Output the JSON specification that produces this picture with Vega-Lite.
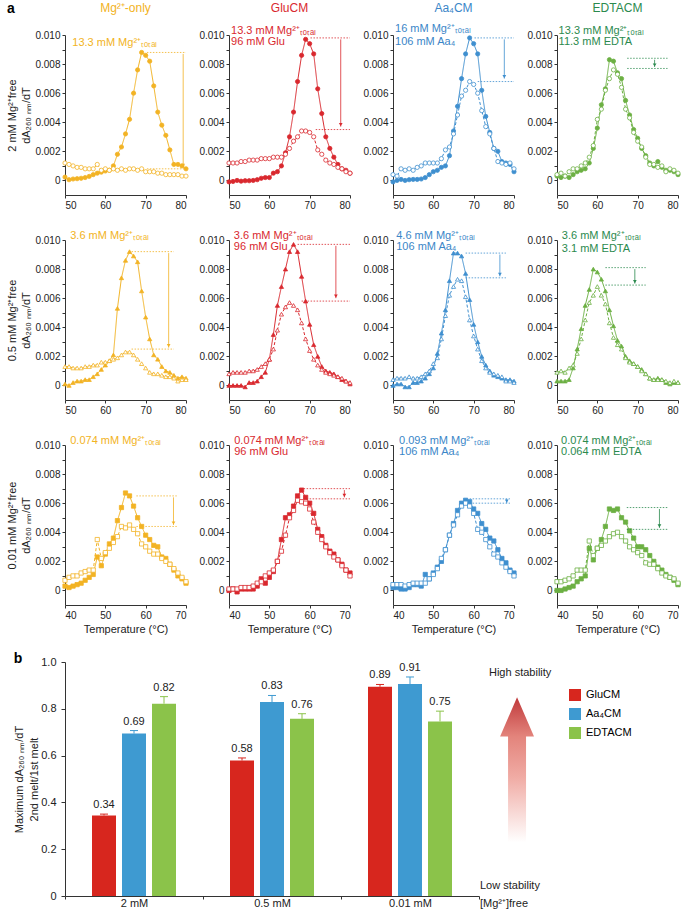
{
"$schema":"https://vega.github.io/schema/vega-lite/v6.json",
"padding":{"left":6,"top":1,"right":0,"bottom":0},
"config":{"font":"Liberation Sans","view":{"stroke":null},"axis":{"grid":false,"labelFontSize":10,"titleFontSize":11,"titleFontWeight":"normal","tickSize":3,"tickColor":"#333333","domainColor":"#333333","labelColor":"#222222","titleColor":"#222222","labelPadding":2}},
"datasets":{
"curves":[
{"p":"11","m":1,"x":50,"y":0.00023},{"p":"11","m":1,"x":51,"y":0.00005},{"p":"11","m":1,"x":52,"y":0.0001},{"p":"11","m":1,"x":53,"y":0.00012},{"p":"11","m":1,"x":54,"y":0.00015},{"p":"11","m":1,"x":55,"y":0.0002},{"p":"11","m":1,"x":56,"y":0.00028},{"p":"11","m":1,"x":57,"y":0.0004},{"p":"11","m":1,"x":58,"y":0.0005},{"p":"11","m":1,"x":59,"y":0.00057},{"p":"11","m":1,"x":60,"y":0.00065},{"p":"11","m":1,"x":61,"y":0.0007},{"p":"11","m":1,"x":62,"y":0.001},{"p":"11","m":1,"x":63,"y":0.0018},{"p":"11","m":1,"x":64,"y":0.0023},{"p":"11","m":1,"x":65,"y":0.0032},{"p":"11","m":1,"x":66,"y":0.0042},{"p":"11","m":1,"x":67,"y":0.006},{"p":"11","m":1,"x":68,"y":0.0076},{"p":"11","m":1,"x":69,"y":0.0088},{"p":"11","m":1,"x":70,"y":0.0086},{"p":"11","m":1,"x":71,"y":0.0082},{"p":"11","m":1,"x":72,"y":0.0065},{"p":"11","m":1,"x":73,"y":0.0047},{"p":"11","m":1,"x":74,"y":0.0038},{"p":"11","m":1,"x":75,"y":0.0031},{"p":"11","m":1,"x":76,"y":0.0021},{"p":"11","m":1,"x":77,"y":0.0011},{"p":"11","m":1,"x":78,"y":0.0011},{"p":"11","m":1,"x":79,"y":0.001},{"p":"11","m":1,"x":80,"y":0.0008},
{"p":"11","m":2,"x":50,"y":0.0012},{"p":"11","m":2,"x":51,"y":0.0011},{"p":"11","m":2,"x":52,"y":0.001},{"p":"11","m":2,"x":53,"y":0.0009},{"p":"11","m":2,"x":54,"y":0.0009},{"p":"11","m":2,"x":55,"y":0.0008},{"p":"11","m":2,"x":56,"y":0.0008},{"p":"11","m":2,"x":57,"y":0.0008},{"p":"11","m":2,"x":58,"y":0.0011},{"p":"11","m":2,"x":59,"y":0.0007},{"p":"11","m":2,"x":60,"y":0.0008},{"p":"11","m":2,"x":61,"y":0.0007},{"p":"11","m":2,"x":62,"y":0.0008},{"p":"11","m":2,"x":63,"y":0.0007},{"p":"11","m":2,"x":64,"y":0.0008},{"p":"11","m":2,"x":65,"y":0.0007},{"p":"11","m":2,"x":66,"y":0.0008},{"p":"11","m":2,"x":67,"y":0.0008},{"p":"11","m":2,"x":68,"y":0.0007},{"p":"11","m":2,"x":69,"y":0.0008},{"p":"11","m":2,"x":70,"y":0.0006},{"p":"11","m":2,"x":71,"y":0.0006},{"p":"11","m":2,"x":72,"y":0.0006},{"p":"11","m":2,"x":73,"y":0.0005},{"p":"11","m":2,"x":74,"y":0.0005},{"p":"11","m":2,"x":75,"y":0.0004},{"p":"11","m":2,"x":76,"y":0.0004},{"p":"11","m":2,"x":77,"y":0.0004},{"p":"11","m":2,"x":78,"y":0.0004},{"p":"11","m":2,"x":79,"y":0.0003},{"p":"11","m":2,"x":80,"y":0.0003},
{"p":"12","m":1,"x":50,"y":-0.0001},{"p":"12","m":1,"x":51,"y":-0.00007},{"p":"12","m":1,"x":52,"y":0},{"p":"12","m":1,"x":53,"y":-0.00005},{"p":"12","m":1,"x":54,"y":-0.00002},{"p":"12","m":1,"x":55,"y":-0.00002},{"p":"12","m":1,"x":56,"y":0},{"p":"12","m":1,"x":57,"y":0.00005},{"p":"12","m":1,"x":58,"y":0.00015},{"p":"12","m":1,"x":59,"y":0.0002},{"p":"12","m":1,"x":60,"y":0.0002},{"p":"12","m":1,"x":61,"y":0.0005},{"p":"12","m":1,"x":62,"y":0.0006},{"p":"12","m":1,"x":63,"y":0.001},{"p":"12","m":1,"x":64,"y":0.0019},{"p":"12","m":1,"x":65,"y":0.003},{"p":"12","m":1,"x":66,"y":0.0047},{"p":"12","m":1,"x":67,"y":0.0068},{"p":"12","m":1,"x":68,"y":0.0086},{"p":"12","m":1,"x":69,"y":0.0097},{"p":"12","m":1,"x":70,"y":0.0094},{"p":"12","m":1,"x":71,"y":0.0087},{"p":"12","m":1,"x":72,"y":0.0063},{"p":"12","m":1,"x":73,"y":0.0046},{"p":"12","m":1,"x":74,"y":0.003},{"p":"12","m":1,"x":75,"y":0.0022},{"p":"12","m":1,"x":76,"y":0.0016},{"p":"12","m":1,"x":77,"y":0.0011},{"p":"12","m":1,"x":78,"y":0.0008},{"p":"12","m":1,"x":79,"y":0.0007},{"p":"12","m":1,"x":80,"y":0.0005},
{"p":"12","m":2,"x":50,"y":0.0012},{"p":"12","m":2,"x":51,"y":0.0012},{"p":"12","m":2,"x":52,"y":0.0012},{"p":"12","m":2,"x":53,"y":0.0013},{"p":"12","m":2,"x":54,"y":0.0013},{"p":"12","m":2,"x":55,"y":0.0014},{"p":"12","m":2,"x":56,"y":0.0014},{"p":"12","m":2,"x":57,"y":0.0014},{"p":"12","m":2,"x":58,"y":0.0015},{"p":"12","m":2,"x":59,"y":0.0015},{"p":"12","m":2,"x":60,"y":0.0015},{"p":"12","m":2,"x":61,"y":0.0016},{"p":"12","m":2,"x":62,"y":0.0016},{"p":"12","m":2,"x":63,"y":0.0016},{"p":"12","m":2,"x":64,"y":0.0018},{"p":"12","m":2,"x":65,"y":0.0022},{"p":"12","m":2,"x":66,"y":0.0027},{"p":"12","m":2,"x":67,"y":0.003},{"p":"12","m":2,"x":68,"y":0.0034},{"p":"12","m":2,"x":69,"y":0.0034},{"p":"12","m":2,"x":70,"y":0.0033},{"p":"12","m":2,"x":71,"y":0.003},{"p":"12","m":2,"x":72,"y":0.0021},{"p":"12","m":2,"x":73,"y":0.0018},{"p":"12","m":2,"x":74,"y":0.0014},{"p":"12","m":2,"x":75,"y":0.0012},{"p":"12","m":2,"x":76,"y":0.0011},{"p":"12","m":2,"x":77,"y":0.0009},{"p":"12","m":2,"x":78,"y":0.0008},{"p":"12","m":2,"x":79,"y":0.0006},{"p":"12","m":2,"x":80,"y":0.0005},
{"p":"13","m":1,"x":50,"y":-0.0001},{"p":"13","m":1,"x":51,"y":0},{"p":"13","m":1,"x":52,"y":0.00007},{"p":"13","m":1,"x":53,"y":0},{"p":"13","m":1,"x":54,"y":0.00005},{"p":"13","m":1,"x":55,"y":0.00007},{"p":"13","m":1,"x":56,"y":0.00007},{"p":"13","m":1,"x":57,"y":0.0001},{"p":"13","m":1,"x":58,"y":0.0002},{"p":"13","m":1,"x":59,"y":0.0004},{"p":"13","m":1,"x":60,"y":0.0006},{"p":"13","m":1,"x":61,"y":0.0007},{"p":"13","m":1,"x":62,"y":0.0009},{"p":"13","m":1,"x":63,"y":0.001},{"p":"13","m":1,"x":64,"y":0.0017},{"p":"13","m":1,"x":65,"y":0.0034},{"p":"13","m":1,"x":66,"y":0.0051},{"p":"13","m":1,"x":67,"y":0.007},{"p":"13","m":1,"x":68,"y":0.0087},{"p":"13","m":1,"x":69,"y":0.0098},{"p":"13","m":1,"x":70,"y":0.0094},{"p":"13","m":1,"x":71,"y":0.0087},{"p":"13","m":1,"x":72,"y":0.0062},{"p":"13","m":1,"x":73,"y":0.0044},{"p":"13","m":1,"x":74,"y":0.0033},{"p":"13","m":1,"x":75,"y":0.0022},{"p":"13","m":1,"x":76,"y":0.002},{"p":"13","m":1,"x":77,"y":0.0013},{"p":"13","m":1,"x":78,"y":0.0012},{"p":"13","m":1,"x":79,"y":0.0011},{"p":"13","m":1,"x":80,"y":0.0006},
{"p":"13","m":2,"x":50,"y":0.0004},{"p":"13","m":2,"x":51,"y":0.0003},{"p":"13","m":2,"x":52,"y":0.0008},{"p":"13","m":2,"x":53,"y":0.0007},{"p":"13","m":2,"x":54,"y":0.0008},{"p":"13","m":2,"x":55,"y":0.0007},{"p":"13","m":2,"x":56,"y":0.0009},{"p":"13","m":2,"x":57,"y":0.001},{"p":"13","m":2,"x":58,"y":0.0012},{"p":"13","m":2,"x":59,"y":0.0012},{"p":"13","m":2,"x":60,"y":0.0012},{"p":"13","m":2,"x":61,"y":0.0012},{"p":"13","m":2,"x":62,"y":0.0015},{"p":"13","m":2,"x":63,"y":0.0021},{"p":"13","m":2,"x":64,"y":0.0023},{"p":"13","m":2,"x":65,"y":0.0032},{"p":"13","m":2,"x":66,"y":0.0045},{"p":"13","m":2,"x":67,"y":0.0058},{"p":"13","m":2,"x":68,"y":0.0062},{"p":"13","m":2,"x":69,"y":0.0068},{"p":"13","m":2,"x":70,"y":0.0066},{"p":"13","m":2,"x":71,"y":0.006},{"p":"13","m":2,"x":72,"y":0.0048},{"p":"13","m":2,"x":73,"y":0.0037},{"p":"13","m":2,"x":74,"y":0.0032},{"p":"13","m":2,"x":75,"y":0.0022},{"p":"13","m":2,"x":76,"y":0.0013},{"p":"13","m":2,"x":77,"y":0.0012},{"p":"13","m":2,"x":78,"y":0.0011},{"p":"13","m":2,"x":79,"y":0.0012},{"p":"13","m":2,"x":80,"y":0.0008},
{"p":"14","m":1,"x":50,"y":0.0003},{"p":"14","m":1,"x":51,"y":0.0002},{"p":"14","m":1,"x":52,"y":0.0003},{"p":"14","m":1,"x":53,"y":0.0002},{"p":"14","m":1,"x":54,"y":0.0004},{"p":"14","m":1,"x":55,"y":0.0006},{"p":"14","m":1,"x":56,"y":0.0007},{"p":"14","m":1,"x":57,"y":0.0008},{"p":"14","m":1,"x":58,"y":0.0012},{"p":"14","m":1,"x":59,"y":0.0022},{"p":"14","m":1,"x":60,"y":0.0036},{"p":"14","m":1,"x":61,"y":0.0052},{"p":"14","m":1,"x":62,"y":0.0063},{"p":"14","m":1,"x":63,"y":0.0083},{"p":"14","m":1,"x":64,"y":0.0082},{"p":"14","m":1,"x":65,"y":0.0074},{"p":"14","m":1,"x":66,"y":0.007},{"p":"14","m":1,"x":67,"y":0.0055},{"p":"14","m":1,"x":68,"y":0.0045},{"p":"14","m":1,"x":69,"y":0.0035},{"p":"14","m":1,"x":70,"y":0.0029},{"p":"14","m":1,"x":71,"y":0.0022},{"p":"14","m":1,"x":72,"y":0.0017},{"p":"14","m":1,"x":73,"y":0.0012},{"p":"14","m":1,"x":74,"y":0.001},{"p":"14","m":1,"x":75,"y":0.0013},{"p":"14","m":1,"x":76,"y":0.0009},{"p":"14","m":1,"x":77,"y":0.0007},{"p":"14","m":1,"x":78,"y":0.0007},{"p":"14","m":1,"x":79,"y":0.0006},{"p":"14","m":1,"x":80,"y":0.0004},
{"p":"14","m":2,"x":50,"y":0.0004},{"p":"14","m":2,"x":51,"y":0.0005},{"p":"14","m":2,"x":52,"y":0.0003},{"p":"14","m":2,"x":53,"y":0.0006},{"p":"14","m":2,"x":54,"y":0.0008},{"p":"14","m":2,"x":55,"y":0.0008},{"p":"14","m":2,"x":56,"y":0.001},{"p":"14","m":2,"x":57,"y":0.0012},{"p":"14","m":2,"x":58,"y":0.0016},{"p":"14","m":2,"x":59,"y":0.0024},{"p":"14","m":2,"x":60,"y":0.0042},{"p":"14","m":2,"x":61,"y":0.0049},{"p":"14","m":2,"x":62,"y":0.0062},{"p":"14","m":2,"x":63,"y":0.007},{"p":"14","m":2,"x":64,"y":0.0076},{"p":"14","m":2,"x":65,"y":0.0073},{"p":"14","m":2,"x":66,"y":0.0064},{"p":"14","m":2,"x":67,"y":0.0049},{"p":"14","m":2,"x":68,"y":0.0043},{"p":"14","m":2,"x":69,"y":0.0033},{"p":"14","m":2,"x":70,"y":0.0027},{"p":"14","m":2,"x":71,"y":0.0023},{"p":"14","m":2,"x":72,"y":0.0016},{"p":"14","m":2,"x":73,"y":0.0011},{"p":"14","m":2,"x":74,"y":0.0011},{"p":"14","m":2,"x":75,"y":0.0009},{"p":"14","m":2,"x":76,"y":0.001},{"p":"14","m":2,"x":77,"y":0.0006},{"p":"14","m":2,"x":78,"y":0.0008},{"p":"14","m":2,"x":79,"y":0.0007},{"p":"14","m":2,"x":80,"y":0.0005},
{"p":"21","m":1,"x":50,"y":0.0001},{"p":"21","m":1,"x":51,"y":0},{"p":"21","m":1,"x":52,"y":0.0002},{"p":"21","m":1,"x":53,"y":0.0003},{"p":"21","m":1,"x":54,"y":0.0003},{"p":"21","m":1,"x":55,"y":0.0004},{"p":"21","m":1,"x":56,"y":0.0004},{"p":"21","m":1,"x":57,"y":0.0006},{"p":"21","m":1,"x":58,"y":0.0008},{"p":"21","m":1,"x":59,"y":0.0011},{"p":"21","m":1,"x":60,"y":0.0014},{"p":"21","m":1,"x":61,"y":0.0017},{"p":"21","m":1,"x":62,"y":0.0021},{"p":"21","m":1,"x":63,"y":0.0053},{"p":"21","m":1,"x":64,"y":0.0074},{"p":"21","m":1,"x":65,"y":0.0086},{"p":"21","m":1,"x":66,"y":0.0092},{"p":"21","m":1,"x":67,"y":0.0089},{"p":"21","m":1,"x":68,"y":0.0085},{"p":"21","m":1,"x":69,"y":0.0065},{"p":"21","m":1,"x":70,"y":0.0047},{"p":"21","m":1,"x":71,"y":0.0032},{"p":"21","m":1,"x":72,"y":0.0021},{"p":"21","m":1,"x":73,"y":0.0018},{"p":"21","m":1,"x":74,"y":0.0013},{"p":"21","m":1,"x":75,"y":0.001},{"p":"21","m":1,"x":76,"y":0.0009},{"p":"21","m":1,"x":77,"y":0.0007},{"p":"21","m":1,"x":78,"y":0.0005},{"p":"21","m":1,"x":79,"y":0.0006},{"p":"21","m":1,"x":80,"y":0.0005},
{"p":"21","m":2,"x":50,"y":0.0013},{"p":"21","m":2,"x":51,"y":0.0013},{"p":"21","m":2,"x":52,"y":0.0012},{"p":"21","m":2,"x":53,"y":0.0012},{"p":"21","m":2,"x":54,"y":0.0012},{"p":"21","m":2,"x":55,"y":0.0013},{"p":"21","m":2,"x":56,"y":0.0013},{"p":"21","m":2,"x":57,"y":0.0014},{"p":"21","m":2,"x":58,"y":0.0014},{"p":"21","m":2,"x":59,"y":0.0016},{"p":"21","m":2,"x":60,"y":0.0016},{"p":"21","m":2,"x":61,"y":0.0017},{"p":"21","m":2,"x":62,"y":0.0018},{"p":"21","m":2,"x":63,"y":0.0019},{"p":"21","m":2,"x":64,"y":0.0021},{"p":"21","m":2,"x":65,"y":0.0023},{"p":"21","m":2,"x":66,"y":0.0023},{"p":"21","m":2,"x":67,"y":0.0021},{"p":"21","m":2,"x":68,"y":0.0018},{"p":"21","m":2,"x":69,"y":0.0015},{"p":"21","m":2,"x":70,"y":0.0012},{"p":"21","m":2,"x":71,"y":0.0009},{"p":"21","m":2,"x":72,"y":0.0008},{"p":"21","m":2,"x":73,"y":0.0008},{"p":"21","m":2,"x":74,"y":0.0007},{"p":"21","m":2,"x":75,"y":0.0006},{"p":"21","m":2,"x":76,"y":0.0006},{"p":"21","m":2,"x":77,"y":0.0005},{"p":"21","m":2,"x":78,"y":0.0003},{"p":"21","m":2,"x":79,"y":0.0004},{"p":"21","m":2,"x":80,"y":0.0004},
{"p":"22","m":1,"x":50,"y":0},{"p":"22","m":1,"x":51,"y":0},{"p":"22","m":1,"x":52,"y":0},{"p":"22","m":1,"x":53,"y":0},{"p":"22","m":1,"x":54,"y":-0.0001},{"p":"22","m":1,"x":55,"y":0.0002},{"p":"22","m":1,"x":56,"y":0.0002},{"p":"22","m":1,"x":57,"y":0.0003},{"p":"22","m":1,"x":58,"y":0.0006},{"p":"22","m":1,"x":59,"y":0.0009},{"p":"22","m":1,"x":60,"y":0.0018},{"p":"22","m":1,"x":61,"y":0.0035},{"p":"22","m":1,"x":62,"y":0.0055},{"p":"22","m":1,"x":63,"y":0.0068},{"p":"22","m":1,"x":64,"y":0.008},{"p":"22","m":1,"x":65,"y":0.0092},{"p":"22","m":1,"x":66,"y":0.0097},{"p":"22","m":1,"x":67,"y":0.0092},{"p":"22","m":1,"x":68,"y":0.0075},{"p":"22","m":1,"x":69,"y":0.0058},{"p":"22","m":1,"x":70,"y":0.0042},{"p":"22","m":1,"x":71,"y":0.0028},{"p":"22","m":1,"x":72,"y":0.002},{"p":"22","m":1,"x":73,"y":0.0013},{"p":"22","m":1,"x":74,"y":0.001},{"p":"22","m":1,"x":75,"y":0.0009},{"p":"22","m":1,"x":76,"y":0.0008},{"p":"22","m":1,"x":77,"y":0.0006},{"p":"22","m":1,"x":78,"y":0.0004},{"p":"22","m":1,"x":79,"y":0.0003},{"p":"22","m":1,"x":80,"y":0.0001},
{"p":"22","m":2,"x":50,"y":0.0008},{"p":"22","m":2,"x":51,"y":0.0009},{"p":"22","m":2,"x":52,"y":0.0009},{"p":"22","m":2,"x":53,"y":0.0009},{"p":"22","m":2,"x":54,"y":0.0009},{"p":"22","m":2,"x":55,"y":0.001},{"p":"22","m":2,"x":56,"y":0.001},{"p":"22","m":2,"x":57,"y":0.0011},{"p":"22","m":2,"x":58,"y":0.0013},{"p":"22","m":2,"x":59,"y":0.0015},{"p":"22","m":2,"x":60,"y":0.0018},{"p":"22","m":2,"x":61,"y":0.0025},{"p":"22","m":2,"x":62,"y":0.0038},{"p":"22","m":2,"x":63,"y":0.0049},{"p":"22","m":2,"x":64,"y":0.0054},{"p":"22","m":2,"x":65,"y":0.0057},{"p":"22","m":2,"x":66,"y":0.0055},{"p":"22","m":2,"x":67,"y":0.0052},{"p":"22","m":2,"x":68,"y":0.0043},{"p":"22","m":2,"x":69,"y":0.0032},{"p":"22","m":2,"x":70,"y":0.0024},{"p":"22","m":2,"x":71,"y":0.0018},{"p":"22","m":2,"x":72,"y":0.0014},{"p":"22","m":2,"x":73,"y":0.0011},{"p":"22","m":2,"x":74,"y":0.0009},{"p":"22","m":2,"x":75,"y":0.0008},{"p":"22","m":2,"x":76,"y":0.0007},{"p":"22","m":2,"x":77,"y":0.0006},{"p":"22","m":2,"x":78,"y":0.0005},{"p":"22","m":2,"x":79,"y":0.0003},{"p":"22","m":2,"x":80,"y":0.0002},
{"p":"23","m":1,"x":50,"y":0},{"p":"23","m":1,"x":51,"y":0.0001},{"p":"23","m":1,"x":52,"y":0.0001},{"p":"23","m":1,"x":53,"y":-0.0001},{"p":"23","m":1,"x":54,"y":-0.0001},{"p":"23","m":1,"x":55,"y":0.0002},{"p":"23","m":1,"x":56,"y":0.0002},{"p":"23","m":1,"x":57,"y":0.0003},{"p":"23","m":1,"x":58,"y":0.0005},{"p":"23","m":1,"x":59,"y":0.0008},{"p":"23","m":1,"x":60,"y":0.0012},{"p":"23","m":1,"x":61,"y":0.0022},{"p":"23","m":1,"x":62,"y":0.0036},{"p":"23","m":1,"x":63,"y":0.0052},{"p":"23","m":1,"x":64,"y":0.0072},{"p":"23","m":1,"x":65,"y":0.0091},{"p":"23","m":1,"x":66,"y":0.0091},{"p":"23","m":1,"x":67,"y":0.0089},{"p":"23","m":1,"x":68,"y":0.0077},{"p":"23","m":1,"x":69,"y":0.0059},{"p":"23","m":1,"x":70,"y":0.0042},{"p":"23","m":1,"x":71,"y":0.003},{"p":"23","m":1,"x":72,"y":0.002},{"p":"23","m":1,"x":73,"y":0.0014},{"p":"23","m":1,"x":74,"y":0.001},{"p":"23","m":1,"x":75,"y":0.0007},{"p":"23","m":1,"x":76,"y":0.0006},{"p":"23","m":1,"x":77,"y":0.0005},{"p":"23","m":1,"x":78,"y":0.0004},{"p":"23","m":1,"x":79,"y":0.0004},{"p":"23","m":1,"x":80,"y":0.0003},
{"p":"23","m":2,"x":50,"y":0.0004},{"p":"23","m":2,"x":51,"y":0.0005},{"p":"23","m":2,"x":52,"y":0.0005},{"p":"23","m":2,"x":53,"y":0.0005},{"p":"23","m":2,"x":54,"y":0.0006},{"p":"23","m":2,"x":55,"y":0.0005},{"p":"23","m":2,"x":56,"y":0.0005},{"p":"23","m":2,"x":57,"y":0.0006},{"p":"23","m":2,"x":58,"y":0.0008},{"p":"23","m":2,"x":59,"y":0.001},{"p":"23","m":2,"x":60,"y":0.0015},{"p":"23","m":2,"x":61,"y":0.0019},{"p":"23","m":2,"x":62,"y":0.0032},{"p":"23","m":2,"x":63,"y":0.0048},{"p":"23","m":2,"x":64,"y":0.0062},{"p":"23","m":2,"x":65,"y":0.0068},{"p":"23","m":2,"x":66,"y":0.0073},{"p":"23","m":2,"x":67,"y":0.0072},{"p":"23","m":2,"x":68,"y":0.0061},{"p":"23","m":2,"x":69,"y":0.0045},{"p":"23","m":2,"x":70,"y":0.0034},{"p":"23","m":2,"x":71,"y":0.0025},{"p":"23","m":2,"x":72,"y":0.0017},{"p":"23","m":2,"x":73,"y":0.0012},{"p":"23","m":2,"x":74,"y":0.0009},{"p":"23","m":2,"x":75,"y":0.0008},{"p":"23","m":2,"x":76,"y":0.0007},{"p":"23","m":2,"x":77,"y":0.0006},{"p":"23","m":2,"x":78,"y":0.0003},{"p":"23","m":2,"x":79,"y":0.0003},{"p":"23","m":2,"x":80,"y":0.0002},
{"p":"24","m":1,"x":50,"y":0.0003},{"p":"24","m":1,"x":51,"y":0.0003},{"p":"24","m":1,"x":52,"y":0.0003},{"p":"24","m":1,"x":53,"y":0.0004},{"p":"24","m":1,"x":54,"y":0.0012},{"p":"24","m":1,"x":55,"y":0.0025},{"p":"24","m":1,"x":56,"y":0.0039},{"p":"24","m":1,"x":57,"y":0.0055},{"p":"24","m":1,"x":58,"y":0.0066},{"p":"24","m":1,"x":59,"y":0.008},{"p":"24","m":1,"x":60,"y":0.0078},{"p":"24","m":1,"x":61,"y":0.0073},{"p":"24","m":1,"x":62,"y":0.0065},{"p":"24","m":1,"x":63,"y":0.0052},{"p":"24","m":1,"x":64,"y":0.0041},{"p":"24","m":1,"x":65,"y":0.0031},{"p":"24","m":1,"x":66,"y":0.0027},{"p":"24","m":1,"x":67,"y":0.002},{"p":"24","m":1,"x":68,"y":0.0017},{"p":"24","m":1,"x":69,"y":0.0015},{"p":"24","m":1,"x":70,"y":0.0013},{"p":"24","m":1,"x":71,"y":0.0011},{"p":"24","m":1,"x":72,"y":0.0008},{"p":"24","m":1,"x":73,"y":0.0005},{"p":"24","m":1,"x":74,"y":0.0004},{"p":"24","m":1,"x":75,"y":0.0005},{"p":"24","m":1,"x":76,"y":0.0004},{"p":"24","m":1,"x":77,"y":0.0002},{"p":"24","m":1,"x":78,"y":0.0001},{"p":"24","m":1,"x":79,"y":0.0002},{"p":"24","m":1,"x":80,"y":0.0002},
{"p":"24","m":2,"x":50,"y":0.0009},{"p":"24","m":2,"x":51,"y":0.001},{"p":"24","m":2,"x":52,"y":0.0009},{"p":"24","m":2,"x":53,"y":0.0012},{"p":"24","m":2,"x":54,"y":0.0014},{"p":"24","m":2,"x":55,"y":0.0022},{"p":"24","m":2,"x":56,"y":0.0032},{"p":"24","m":2,"x":57,"y":0.0045},{"p":"24","m":2,"x":58,"y":0.0057},{"p":"24","m":2,"x":59,"y":0.0062},{"p":"24","m":2,"x":60,"y":0.0068},{"p":"24","m":2,"x":61,"y":0.0062},{"p":"24","m":2,"x":62,"y":0.0056},{"p":"24","m":2,"x":63,"y":0.0043},{"p":"24","m":2,"x":64,"y":0.0033},{"p":"24","m":2,"x":65,"y":0.0028},{"p":"24","m":2,"x":66,"y":0.0025},{"p":"24","m":2,"x":67,"y":0.0019},{"p":"24","m":2,"x":68,"y":0.0016},{"p":"24","m":2,"x":69,"y":0.0015},{"p":"24","m":2,"x":70,"y":0.0013},{"p":"24","m":2,"x":71,"y":0.001},{"p":"24","m":2,"x":72,"y":0.0008},{"p":"24","m":2,"x":73,"y":0.0005},{"p":"24","m":2,"x":74,"y":0.0004},{"p":"24","m":2,"x":75,"y":0.0004},{"p":"24","m":2,"x":76,"y":0.0004},{"p":"24","m":2,"x":77,"y":0.0003},{"p":"24","m":2,"x":78,"y":0.0002},{"p":"24","m":2,"x":79,"y":0.0003},{"p":"24","m":2,"x":80,"y":0.0002},
{"p":"31","m":1,"x":40,"y":0.0003},{"p":"31","m":1,"x":41,"y":0.0002},{"p":"31","m":1,"x":42,"y":0.0003},{"p":"31","m":1,"x":43,"y":0.0004},{"p":"31","m":1,"x":44,"y":0.0005},{"p":"31","m":1,"x":45,"y":0.0007},{"p":"31","m":1,"x":46,"y":0.0009},{"p":"31","m":1,"x":47,"y":0.0011},{"p":"31","m":1,"x":48,"y":0.0023},{"p":"31","m":1,"x":49,"y":0.0017},{"p":"31","m":1,"x":50,"y":0.0025},{"p":"31","m":1,"x":51,"y":0.0032},{"p":"31","m":1,"x":52,"y":0.0036},{"p":"31","m":1,"x":53,"y":0.0048},{"p":"31","m":1,"x":54,"y":0.0057},{"p":"31","m":1,"x":55,"y":0.0067},{"p":"31","m":1,"x":56,"y":0.0065},{"p":"31","m":1,"x":57,"y":0.0058},{"p":"31","m":1,"x":58,"y":0.005},{"p":"31","m":1,"x":59,"y":0.0044},{"p":"31","m":1,"x":60,"y":0.0038},{"p":"31","m":1,"x":61,"y":0.0035},{"p":"31","m":1,"x":62,"y":0.0031},{"p":"31","m":1,"x":63,"y":0.003},{"p":"31","m":1,"x":64,"y":0.0023},{"p":"31","m":1,"x":65,"y":0.0022},{"p":"31","m":1,"x":66,"y":0.0018},{"p":"31","m":1,"x":67,"y":0.0014},{"p":"31","m":1,"x":68,"y":0.001},{"p":"31","m":1,"x":69,"y":0.0008},{"p":"31","m":1,"x":70,"y":0.0005},
{"p":"31","m":2,"x":40,"y":0.0007},{"p":"31","m":2,"x":41,"y":0.0009},{"p":"31","m":2,"x":42,"y":0.001},{"p":"31","m":2,"x":43,"y":0.001},{"p":"31","m":2,"x":44,"y":0.0012},{"p":"31","m":2,"x":45,"y":0.0013},{"p":"31","m":2,"x":46,"y":0.0014},{"p":"31","m":2,"x":47,"y":0.0014},{"p":"31","m":2,"x":48,"y":0.0035},{"p":"31","m":2,"x":49,"y":0.0022},{"p":"31","m":2,"x":50,"y":0.0026},{"p":"31","m":2,"x":51,"y":0.0029},{"p":"31","m":2,"x":52,"y":0.0033},{"p":"31","m":2,"x":53,"y":0.0037},{"p":"31","m":2,"x":54,"y":0.0044},{"p":"31","m":2,"x":55,"y":0.0043},{"p":"31","m":2,"x":56,"y":0.0045},{"p":"31","m":2,"x":57,"y":0.0042},{"p":"31","m":2,"x":58,"y":0.0039},{"p":"31","m":2,"x":59,"y":0.0032},{"p":"31","m":2,"x":60,"y":0.003},{"p":"31","m":2,"x":61,"y":0.0027},{"p":"31","m":2,"x":62,"y":0.0025},{"p":"31","m":2,"x":63,"y":0.0025},{"p":"31","m":2,"x":64,"y":0.0022},{"p":"31","m":2,"x":65,"y":0.002},{"p":"31","m":2,"x":66,"y":0.0018},{"p":"31","m":2,"x":67,"y":0.0015},{"p":"31","m":2,"x":68,"y":0.0012},{"p":"31","m":2,"x":69,"y":0.0009},{"p":"31","m":2,"x":70,"y":0.0006},
{"p":"32","m":1,"x":40,"y":0},{"p":"32","m":1,"x":41,"y":0.0001},{"p":"32","m":1,"x":42,"y":-0.0001},{"p":"32","m":1,"x":43,"y":0.0001},{"p":"32","m":1,"x":44,"y":0.0001},{"p":"32","m":1,"x":45,"y":0.0001},{"p":"32","m":1,"x":46,"y":0.0001},{"p":"32","m":1,"x":47,"y":0.0003},{"p":"32","m":1,"x":48,"y":0.0008},{"p":"32","m":1,"x":49,"y":0.0005},{"p":"32","m":1,"x":50,"y":0.0009},{"p":"32","m":1,"x":51,"y":0.0013},{"p":"32","m":1,"x":52,"y":0.002},{"p":"32","m":1,"x":53,"y":0.0035},{"p":"32","m":1,"x":54,"y":0.005},{"p":"32","m":1,"x":55,"y":0.0052},{"p":"32","m":1,"x":56,"y":0.0058},{"p":"32","m":1,"x":57,"y":0.0065},{"p":"32","m":1,"x":58,"y":0.0069},{"p":"32","m":1,"x":59,"y":0.0064},{"p":"32","m":1,"x":60,"y":0.006},{"p":"32","m":1,"x":61,"y":0.0053},{"p":"32","m":1,"x":62,"y":0.0042},{"p":"32","m":1,"x":63,"y":0.0037},{"p":"32","m":1,"x":64,"y":0.0031},{"p":"32","m":1,"x":65,"y":0.0027},{"p":"32","m":1,"x":66,"y":0.0025},{"p":"32","m":1,"x":67,"y":0.0021},{"p":"32","m":1,"x":68,"y":0.0018},{"p":"32","m":1,"x":69,"y":0.0014},{"p":"32","m":1,"x":70,"y":0.0012},
{"p":"32","m":2,"x":40,"y":0.0001},{"p":"32","m":2,"x":41,"y":0.0001},{"p":"32","m":2,"x":42,"y":0.0001},{"p":"32","m":2,"x":43,"y":0.0002},{"p":"32","m":2,"x":44,"y":0.0002},{"p":"32","m":2,"x":45,"y":0.0002},{"p":"32","m":2,"x":46,"y":0.0003},{"p":"32","m":2,"x":47,"y":0.0005},{"p":"32","m":2,"x":48,"y":0.0006},{"p":"32","m":2,"x":49,"y":0.001},{"p":"32","m":2,"x":50,"y":0.0012},{"p":"32","m":2,"x":51,"y":0.0014},{"p":"32","m":2,"x":52,"y":0.002},{"p":"32","m":2,"x":53,"y":0.0027},{"p":"32","m":2,"x":54,"y":0.0038},{"p":"32","m":2,"x":55,"y":0.005},{"p":"32","m":2,"x":56,"y":0.0055},{"p":"32","m":2,"x":57,"y":0.0062},{"p":"32","m":2,"x":58,"y":0.0061},{"p":"32","m":2,"x":59,"y":0.006},{"p":"32","m":2,"x":60,"y":0.0056},{"p":"32","m":2,"x":61,"y":0.0047},{"p":"32","m":2,"x":62,"y":0.004},{"p":"32","m":2,"x":63,"y":0.0035},{"p":"32","m":2,"x":64,"y":0.003},{"p":"32","m":2,"x":65,"y":0.0026},{"p":"32","m":2,"x":66,"y":0.0023},{"p":"32","m":2,"x":67,"y":0.0021},{"p":"32","m":2,"x":68,"y":0.0017},{"p":"32","m":2,"x":69,"y":0.0014},{"p":"32","m":2,"x":70,"y":0.001},
{"p":"33","m":1,"x":40,"y":0.0002},{"p":"33","m":1,"x":41,"y":0.0002},{"p":"33","m":1,"x":42,"y":0.0001},{"p":"33","m":1,"x":43,"y":0.0001},{"p":"33","m":1,"x":44,"y":0.0002},{"p":"33","m":1,"x":45,"y":0.0004},{"p":"33","m":1,"x":46,"y":0.0004},{"p":"33","m":1,"x":47,"y":0.0003},{"p":"33","m":1,"x":48,"y":0.0011},{"p":"33","m":1,"x":49,"y":0.0008},{"p":"33","m":1,"x":50,"y":0.0012},{"p":"33","m":1,"x":51,"y":0.0016},{"p":"33","m":1,"x":52,"y":0.002},{"p":"33","m":1,"x":53,"y":0.0028},{"p":"33","m":1,"x":54,"y":0.0038},{"p":"33","m":1,"x":55,"y":0.0046},{"p":"33","m":1,"x":56,"y":0.0055},{"p":"33","m":1,"x":57,"y":0.006},{"p":"33","m":1,"x":58,"y":0.0062},{"p":"33","m":1,"x":59,"y":0.0061},{"p":"33","m":1,"x":60,"y":0.0056},{"p":"33","m":1,"x":61,"y":0.0053},{"p":"33","m":1,"x":62,"y":0.0046},{"p":"33","m":1,"x":63,"y":0.0042},{"p":"33","m":1,"x":64,"y":0.0036},{"p":"33","m":1,"x":65,"y":0.0034},{"p":"33","m":1,"x":66,"y":0.0028},{"p":"33","m":1,"x":67,"y":0.0022},{"p":"33","m":1,"x":68,"y":0.0019},{"p":"33","m":1,"x":69,"y":0.0014},{"p":"33","m":1,"x":70,"y":0.0012},
{"p":"33","m":2,"x":40,"y":0.0004},{"p":"33","m":2,"x":41,"y":0.0004},{"p":"33","m":2,"x":42,"y":0.0004},{"p":"33","m":2,"x":43,"y":0.0003},{"p":"33","m":2,"x":44,"y":0.0004},{"p":"33","m":2,"x":45,"y":0.0005},{"p":"33","m":2,"x":46,"y":0.0005},{"p":"33","m":2,"x":47,"y":0.0005},{"p":"33","m":2,"x":48,"y":0.0005},{"p":"33","m":2,"x":49,"y":0.0008},{"p":"33","m":2,"x":50,"y":0.0011},{"p":"33","m":2,"x":51,"y":0.0015},{"p":"33","m":2,"x":52,"y":0.0022},{"p":"33","m":2,"x":53,"y":0.0028},{"p":"33","m":2,"x":54,"y":0.0038},{"p":"33","m":2,"x":55,"y":0.0045},{"p":"33","m":2,"x":56,"y":0.0052},{"p":"33","m":2,"x":57,"y":0.0058},{"p":"33","m":2,"x":58,"y":0.006},{"p":"33","m":2,"x":59,"y":0.0058},{"p":"33","m":2,"x":60,"y":0.0053},{"p":"33","m":2,"x":61,"y":0.0042},{"p":"33","m":2,"x":62,"y":0.004},{"p":"33","m":2,"x":63,"y":0.0035},{"p":"33","m":2,"x":64,"y":0.003},{"p":"33","m":2,"x":65,"y":0.0025},{"p":"33","m":2,"x":66,"y":0.0023},{"p":"33","m":2,"x":67,"y":0.0019},{"p":"33","m":2,"x":68,"y":0.0016},{"p":"33","m":2,"x":69,"y":0.0013},{"p":"33","m":2,"x":70,"y":0.001},
{"p":"34","m":1,"x":40,"y":0},{"p":"34","m":1,"x":41,"y":0},{"p":"34","m":1,"x":42,"y":0.0001},{"p":"34","m":1,"x":43,"y":0.0002},{"p":"34","m":1,"x":44,"y":0.0003},{"p":"34","m":1,"x":45,"y":0.0006},{"p":"34","m":1,"x":46,"y":0.0008},{"p":"34","m":1,"x":47,"y":0.001},{"p":"34","m":1,"x":48,"y":0.0029},{"p":"34","m":1,"x":49,"y":0.0021},{"p":"34","m":1,"x":50,"y":0.0029},{"p":"34","m":1,"x":51,"y":0.0035},{"p":"34","m":1,"x":52,"y":0.0044},{"p":"34","m":1,"x":53,"y":0.0056},{"p":"34","m":1,"x":54,"y":0.0055},{"p":"34","m":1,"x":55,"y":0.0056},{"p":"34","m":1,"x":56,"y":0.005},{"p":"34","m":1,"x":57,"y":0.0047},{"p":"34","m":1,"x":58,"y":0.0041},{"p":"34","m":1,"x":59,"y":0.0036},{"p":"34","m":1,"x":60,"y":0.003},{"p":"34","m":1,"x":61,"y":0.003},{"p":"34","m":1,"x":62,"y":0.0028},{"p":"34","m":1,"x":63,"y":0.0024},{"p":"34","m":1,"x":64,"y":0.002},{"p":"34","m":1,"x":65,"y":0.0016},{"p":"34","m":1,"x":66,"y":0.0014},{"p":"34","m":1,"x":67,"y":0.0011},{"p":"34","m":1,"x":68,"y":0.0009},{"p":"34","m":1,"x":69,"y":0.0007},{"p":"34","m":1,"x":70,"y":0.0004},
{"p":"34","m":2,"x":40,"y":0.0006},{"p":"34","m":2,"x":41,"y":0.0006},{"p":"34","m":2,"x":42,"y":0.0007},{"p":"34","m":2,"x":43,"y":0.0008},{"p":"34","m":2,"x":44,"y":0.001},{"p":"34","m":2,"x":45,"y":0.0014},{"p":"34","m":2,"x":46,"y":0.0014},{"p":"34","m":2,"x":47,"y":0.0014},{"p":"34","m":2,"x":48,"y":0.0034},{"p":"34","m":2,"x":49,"y":0.0024},{"p":"34","m":2,"x":50,"y":0.0029},{"p":"34","m":2,"x":51,"y":0.0031},{"p":"34","m":2,"x":52,"y":0.0034},{"p":"34","m":2,"x":53,"y":0.0037},{"p":"34","m":2,"x":54,"y":0.0039},{"p":"34","m":2,"x":55,"y":0.004},{"p":"34","m":2,"x":56,"y":0.0037},{"p":"34","m":2,"x":57,"y":0.0034},{"p":"34","m":2,"x":58,"y":0.003},{"p":"34","m":2,"x":59,"y":0.0028},{"p":"34","m":2,"x":60,"y":0.0026},{"p":"34","m":2,"x":61,"y":0.0024},{"p":"34","m":2,"x":62,"y":0.0019},{"p":"34","m":2,"x":63,"y":0.0018},{"p":"34","m":2,"x":64,"y":0.0018},{"p":"34","m":2,"x":65,"y":0.0015},{"p":"34","m":2,"x":66,"y":0.0012},{"p":"34","m":2,"x":67,"y":0.001},{"p":"34","m":2,"x":68,"y":0.0009},{"p":"34","m":2,"x":69,"y":0.0008},{"p":"34","m":2,"x":70,"y":0.0005}
],
"refs":[
{"p":"11","x":70.3,"x2":80,"y":0.0088},{"p":"11","x":70.3,"x2":80,"y":0.0008},
{"p":"12","x":70.2,"x2":80,"y":0.0098},{"p":"12","x":71.5,"x2":80,"y":0.0035},
{"p":"13","x":70.2,"x2":80,"y":0.0098},{"p":"13","x":71,"x2":80,"y":0.0068},
{"p":"14","x":67.4,"x2":77.4,"y":0.0084},{"p":"14","x":67.4,"x2":77.4,"y":0.0077},
{"p":"21","x":66.5,"x2":77,"y":0.0092},{"p":"21","x":66.5,"x2":77,"y":0.0025},
{"p":"22","x":67,"x2":80,"y":0.0097},{"p":"22","x":68,"x2":80,"y":0.0058},
{"p":"23","x":68,"x2":78,"y":0.0091},{"p":"23","x":68,"x2":78,"y":0.0074},
{"p":"24","x":62,"x2":72,"y":0.0081},{"p":"24","x":62,"x2":72,"y":0.0069},
{"p":"31","x":57.7,"x2":67.7,"y":0.0065},{"p":"31","x":57.7,"x2":67.7,"y":0.0044},
{"p":"32","x":58.5,"x2":70,"y":0.007},{"p":"32","x":58.5,"x2":70,"y":0.0063},
{"p":"33","x":59,"x2":69,"y":0.0063},{"p":"33","x":59,"x2":69,"y":0.006},
{"p":"34","x":57.3,"x2":67.4,"y":0.0057},{"p":"34","x":57.3,"x2":67.4,"y":0.0042}
],
"arrows":[
{"p":"11","x":79.3,"y":0.0087,"y2":0.0009},{"p":"12","x":77.7,"y":0.0097,"y2":0.0037},{"p":"13","x":77.6,"y":0.0097,"y2":0.007},{"p":"14","x":74.2,"y":0.0083,"y2":0.0078},
{"p":"21","x":75.7,"y":0.0091,"y2":0.0026},{"p":"22","x":76.5,"y":0.0096,"y2":0.006},{"p":"23","x":76.5,"y":0.009,"y2":0.0075},{"p":"24","x":69.3,"y":0.008,"y2":0.007},
{"p":"31","x":66.9,"y":0.0064,"y2":0.0045},{"p":"32","x":68.6,"y":0.0069,"y2":0.0064},{"p":"33","x":68.2,"y":0.0063,"y2":0.006},{"p":"34","x":65.4,"y":0.0056,"y2":0.0043}
],
"heads":[
{"p":"11","x":65,"y":0.01186,"txt":"Mg²⁺-only"},{"p":"12","x":65,"y":0.01186,"txt":"GluCM"},{"p":"13","x":65,"y":0.01186,"txt":"Aa₄CM"},{"p":"14","x":65,"y":0.01186,"txt":"EDTACM"}
],
"labels":[
{"p":"11","x":51.8,"y":0.00945,"txt":"13.3 mM Mg²⁺ₜₒₜₐₗ"},
{"p":"12","x":50.5,"y":0.0103,"txt":"13.3 mM Mg²⁺ₜₒₜₐₗ"},{"p":"12","x":50.5,"y":0.0095,"txt":"96 mM Glu"},
{"p":"13","x":50.5,"y":0.0104,"txt":"16 mM Mg²⁺ₜₒₜₐₗ"},{"p":"13","x":50.5,"y":0.0095,"txt":"106 mM Aa₄"},
{"p":"14","x":50.4,"y":0.0103,"txt":"13.3 mM Mg²⁺ₜₒₜₐₗ"},{"p":"14","x":50.4,"y":0.0095,"txt":"11.3 mM EDTA"},
{"p":"21","x":51.3,"y":0.01028,"txt":"3.6 mM Mg²⁺ₜₒₜₐₗ"},
{"p":"22","x":51.2,"y":0.0103,"txt":"3.6 mM Mg²⁺ₜₒₜₐₗ"},{"p":"22","x":51.2,"y":0.0095,"txt":"96 mM Glu"},
{"p":"23","x":50.8,"y":0.0103,"txt":"4.6 mM Mg²⁺ₜₒₜₐₗ"},{"p":"23","x":50.8,"y":0.0095,"txt":"106 mM Aa₄"},
{"p":"24","x":51.2,"y":0.0103,"txt":"3.6 mM Mg²⁺ₜₒₜₐₗ"},{"p":"24","x":51.2,"y":0.0094,"txt":"3.1 mM EDTA"},
{"p":"31","x":41.3,"y":0.01028,"txt":"0.074 mM Mg²⁺ₜₒₜₐₗ"},
{"p":"32","x":41.3,"y":0.0103,"txt":"0.074 mM Mg²⁺ₜₒₜₐₗ"},{"p":"32","x":41.3,"y":0.0095,"txt":"96 mM Glu"},
{"p":"33","x":41.5,"y":0.0103,"txt":"0.093 mM Mg²⁺ₜₒₜₐₗ"},{"p":"33","x":41.5,"y":0.0095,"txt":"106 mM Aa₄"},
{"p":"34","x":41,"y":0.0103,"txt":"0.074 mM Mg²⁺ₜₒₜₐₗ"},{"p":"34","x":41,"y":0.0095,"txt":"0.064 mM EDTA"}
],
"bars":[
{"mg":"2 mM","cond":"GluCM","v":0.344,"hi":0.35},{"mg":"2 mM","cond":"Aa₄CM","v":0.694,"hi":0.707},{"mg":"2 mM","cond":"EDTACM","v":0.822,"hi":0.852},
{"mg":"0.5 mM","cond":"GluCM","v":0.579,"hi":0.59},{"mg":"0.5 mM","cond":"Aa₄CM","v":0.829,"hi":0.857},{"mg":"0.5 mM","cond":"EDTACM","v":0.757,"hi":0.779},
{"mg":"0.01 mM","cond":"GluCM","v":0.894,"hi":0.904},{"mg":"0.01 mM","cond":"Aa₄CM","v":0.906,"hi":0.936},{"mg":"0.01 mM","cond":"EDTACM","v":0.746,"hi":0.79}
]
},
"vconcat":[
{"title":{"text":"a","anchor":"start","fontSize":14,"fontWeight":"bold","baseline":"top","offset":-14,"color":"#000000"},
"columns":4,"spacing":{"row":19,"column":8},
"concat":[
{"width":121,"height":160,
"encoding":{"x":{"field":"x","type":"quantitative","scale":{"domain":[50,80],"nice":false,"zero":false},"axis":{"values":[50,60,70,80],"title":null}},
"y":{"field":"y","type":"quantitative","scale":{"domain":[-0.001,0.01],"nice":false,"zero":false},"axis":{"values":[0,0.001,0.002,0.003,0.004,0.005,0.006,0.007,0.008,0.009,0.01],"labelExpr":"round(datum.value*1000)%2==0 ? (datum.value==0 ? '0' : format(datum.value,'.3f')) : ''","title":["2 mM Mg²⁺free","dA₂₆₀ ₙₘ/dT"],"titlePadding":3,"titleLineHeight":14}}},
"layer":[
{"data":{"name":"curves"},"transform":[{"filter":"datum.p=='11'"}],"mark":{"type":"line","stroke":"#F2B324","strokeWidth":1},"encoding":{"detail":{"field":"m"},"strokeDash":{"field":"m","type":"nominal","scale":{"domain":[1,2],"range":[[1,0],[3,2]]},"legend":null}}},
{"data":{"name":"curves"},"transform":[{"filter":"datum.p=='11'"}],"mark":{"type":"point","shape":"circle","size":18,"stroke":"#F2B324","strokeWidth":0.8,"opacity":1},"encoding":{"fill":{"condition":{"test":"datum.m==1","value":"#F2B324"},"value":"#ffffff"}}},
{"data":{"name":"refs"},"transform":[{"filter":"datum.p=='11'"}],"mark":{"type":"rule","stroke":"#F2B324","strokeDash":[1.5,1.5],"strokeWidth":0.8},"encoding":{"x2":{"field":"x2"}}},
{"data":{"name":"arrows"},"transform":[{"filter":"datum.p=='11'"}],"mark":{"type":"rule","stroke":"#F2B324","strokeWidth":0.8},"encoding":{"y2":{"field":"y2"}}},
{"data":{"name":"arrows"},"transform":[{"filter":"datum.p=='11'"}],"mark":{"type":"point","shape":"triangle-down","size":14,"filled":true,"fill":"#F2B324","opacity":1,"yOffset":-2},"encoding":{"y":{"field":"y2","type":"quantitative"}}},
{"data":{"name":"labels"},"transform":[{"filter":"datum.p=='11'"}],"mark":{"type":"text","align":"left","baseline":"middle","fontSize":11,"color":"#F2B324"},"encoding":{"text":{"field":"txt"}}},
{"data":{"name":"heads"},"transform":[{"filter":"datum.p=='11'"}],"mark":{"type":"text","align":"center","baseline":"middle","fontSize":12,"color":"#F2B324"},"encoding":{"text":{"field":"txt"}}}
]},
{"width":121,"height":160,
"encoding":{"x":{"field":"x","type":"quantitative","scale":{"domain":[50,80],"nice":false,"zero":false},"axis":{"values":[50,60,70,80],"title":null}},
"y":{"field":"y","type":"quantitative","scale":{"domain":[-0.001,0.01],"nice":false,"zero":false},"axis":{"values":[0,0.001,0.002,0.003,0.004,0.005,0.006,0.007,0.008,0.009,0.01],"labelExpr":"round(datum.value*1000)%2==0 ? (datum.value==0 ? '0' : format(datum.value,'.3f')) : ''","title":null}}},
"layer":[
{"data":{"name":"curves"},"transform":[{"filter":"datum.p=='12'"}],"mark":{"type":"line","stroke":"#D9282E","strokeWidth":1},"encoding":{"detail":{"field":"m"},"strokeDash":{"field":"m","type":"nominal","scale":{"domain":[1,2],"range":[[1,0],[3,2]]},"legend":null}}},
{"data":{"name":"curves"},"transform":[{"filter":"datum.p=='12'"}],"mark":{"type":"point","shape":"circle","size":18,"stroke":"#D9282E","strokeWidth":0.8,"opacity":1},"encoding":{"fill":{"condition":{"test":"datum.m==1","value":"#D9282E"},"value":"#ffffff"}}},
{"data":{"name":"refs"},"transform":[{"filter":"datum.p=='12'"}],"mark":{"type":"rule","stroke":"#D9282E","strokeDash":[1.5,1.5],"strokeWidth":0.8},"encoding":{"x2":{"field":"x2"}}},
{"data":{"name":"arrows"},"transform":[{"filter":"datum.p=='12'"}],"mark":{"type":"rule","stroke":"#D9282E","strokeWidth":0.8},"encoding":{"y2":{"field":"y2"}}},
{"data":{"name":"arrows"},"transform":[{"filter":"datum.p=='12'"}],"mark":{"type":"point","shape":"triangle-down","size":14,"filled":true,"fill":"#D9282E","opacity":1,"yOffset":-2},"encoding":{"y":{"field":"y2","type":"quantitative"}}},
{"data":{"name":"labels"},"transform":[{"filter":"datum.p=='12'"}],"mark":{"type":"text","align":"left","baseline":"middle","fontSize":11,"color":"#D9282E"},"encoding":{"text":{"field":"txt"}}},
{"data":{"name":"heads"},"transform":[{"filter":"datum.p=='12'"}],"mark":{"type":"text","align":"center","baseline":"middle","fontSize":12,"color":"#D9282E"},"encoding":{"text":{"field":"txt"}}}
]},
{"width":121,"height":160,
"encoding":{"x":{"field":"x","type":"quantitative","scale":{"domain":[50,80],"nice":false,"zero":false},"axis":{"values":[50,60,70,80],"title":null}},
"y":{"field":"y","type":"quantitative","scale":{"domain":[-0.001,0.01],"nice":false,"zero":false},"axis":{"values":[0,0.001,0.002,0.003,0.004,0.005,0.006,0.007,0.008,0.009,0.01],"labelExpr":"round(datum.value*1000)%2==0 ? (datum.value==0 ? '0' : format(datum.value,'.3f')) : ''","title":null}}},
"layer":[
{"data":{"name":"curves"},"transform":[{"filter":"datum.p=='13'"}],"mark":{"type":"line","stroke":"#3F8FCF","strokeWidth":1},"encoding":{"detail":{"field":"m"},"strokeDash":{"field":"m","type":"nominal","scale":{"domain":[1,2],"range":[[1,0],[3,2]]},"legend":null}}},
{"data":{"name":"curves"},"transform":[{"filter":"datum.p=='13'"}],"mark":{"type":"point","shape":"circle","size":18,"stroke":"#3F8FCF","strokeWidth":0.8,"opacity":1},"encoding":{"fill":{"condition":{"test":"datum.m==1","value":"#3F8FCF"},"value":"#ffffff"}}},
{"data":{"name":"refs"},"transform":[{"filter":"datum.p=='13'"}],"mark":{"type":"rule","stroke":"#3F8FCF","strokeDash":[1.5,1.5],"strokeWidth":0.8},"encoding":{"x2":{"field":"x2"}}},
{"data":{"name":"arrows"},"transform":[{"filter":"datum.p=='13'"}],"mark":{"type":"rule","stroke":"#3F8FCF","strokeWidth":0.8},"encoding":{"y2":{"field":"y2"}}},
{"data":{"name":"arrows"},"transform":[{"filter":"datum.p=='13'"}],"mark":{"type":"point","shape":"triangle-down","size":14,"filled":true,"fill":"#3F8FCF","opacity":1,"yOffset":-2},"encoding":{"y":{"field":"y2","type":"quantitative"}}},
{"data":{"name":"labels"},"transform":[{"filter":"datum.p=='13'"}],"mark":{"type":"text","align":"left","baseline":"middle","fontSize":11,"color":"#3A86C8"},"encoding":{"text":{"field":"txt"}}},
{"data":{"name":"heads"},"transform":[{"filter":"datum.p=='13'"}],"mark":{"type":"text","align":"center","baseline":"middle","fontSize":12,"color":"#3A86C8"},"encoding":{"text":{"field":"txt"}}}
]},
{"width":121,"height":160,
"encoding":{"x":{"field":"x","type":"quantitative","scale":{"domain":[50,80],"nice":false,"zero":false},"axis":{"values":[50,60,70,80],"title":null}},
"y":{"field":"y","type":"quantitative","scale":{"domain":[-0.001,0.01],"nice":false,"zero":false},"axis":{"values":[0,0.001,0.002,0.003,0.004,0.005,0.006,0.007,0.008,0.009,0.01],"labelExpr":"round(datum.value*1000)%2==0 ? (datum.value==0 ? '0' : format(datum.value,'.3f')) : ''","title":null}}},
"layer":[
{"data":{"name":"curves"},"transform":[{"filter":"datum.p=='14'"}],"mark":{"type":"line","stroke":"#6CB043","strokeWidth":1},"encoding":{"detail":{"field":"m"},"strokeDash":{"field":"m","type":"nominal","scale":{"domain":[1,2],"range":[[1,0],[3,2]]},"legend":null}}},
{"data":{"name":"curves"},"transform":[{"filter":"datum.p=='14'"}],"mark":{"type":"point","shape":"circle","size":18,"stroke":"#6CB043","strokeWidth":0.8,"opacity":1},"encoding":{"fill":{"condition":{"test":"datum.m==1","value":"#6CB043"},"value":"#ffffff"}}},
{"data":{"name":"refs"},"transform":[{"filter":"datum.p=='14'"}],"mark":{"type":"rule","stroke":"#2B8A4E","strokeDash":[1.5,1.5],"strokeWidth":0.8},"encoding":{"x2":{"field":"x2"}}},
{"data":{"name":"arrows"},"transform":[{"filter":"datum.p=='14'"}],"mark":{"type":"rule","stroke":"#2B8A4E","strokeWidth":0.8},"encoding":{"y2":{"field":"y2"}}},
{"data":{"name":"arrows"},"transform":[{"filter":"datum.p=='14'"}],"mark":{"type":"point","shape":"triangle-down","size":14,"filled":true,"fill":"#2B8A4E","opacity":1,"yOffset":-2},"encoding":{"y":{"field":"y2","type":"quantitative"}}},
{"data":{"name":"labels"},"transform":[{"filter":"datum.p=='14'"}],"mark":{"type":"text","align":"left","baseline":"middle","fontSize":11,"color":"#2B8A4E"},"encoding":{"text":{"field":"txt"}}},
{"data":{"name":"heads"},"transform":[{"filter":"datum.p=='14'"}],"mark":{"type":"text","align":"center","baseline":"middle","fontSize":12,"color":"#2B8A4E"},"encoding":{"text":{"field":"txt"}}}
]},
{"width":121,"height":160,
"encoding":{"x":{"field":"x","type":"quantitative","scale":{"domain":[50,80],"nice":false,"zero":false},"axis":{"values":[50,60,70,80],"title":null}},
"y":{"field":"y","type":"quantitative","scale":{"domain":[-0.001,0.01],"nice":false,"zero":false},"axis":{"values":[0,0.001,0.002,0.003,0.004,0.005,0.006,0.007,0.008,0.009,0.01],"labelExpr":"round(datum.value*1000)%2==0 ? (datum.value==0 ? '0' : format(datum.value,'.3f')) : ''","title":["0.5 mM Mg²⁺free","dA₂₆₀ ₙₘ/dT"],"titlePadding":3,"titleLineHeight":14}}},
"layer":[
{"data":{"name":"curves"},"transform":[{"filter":"datum.p=='21'"}],"mark":{"type":"line","stroke":"#F2B324","strokeWidth":1},"encoding":{"detail":{"field":"m"},"strokeDash":{"field":"m","type":"nominal","scale":{"domain":[1,2],"range":[[1,0],[3,2]]},"legend":null}}},
{"data":{"name":"curves"},"transform":[{"filter":"datum.p=='21'"}],"mark":{"type":"point","shape":"triangle-up","size":18,"stroke":"#F2B324","strokeWidth":0.8,"opacity":1},"encoding":{"fill":{"condition":{"test":"datum.m==1","value":"#F2B324"},"value":"#ffffff"}}},
{"data":{"name":"refs"},"transform":[{"filter":"datum.p=='21'"}],"mark":{"type":"rule","stroke":"#F2B324","strokeDash":[1.5,1.5],"strokeWidth":0.8},"encoding":{"x2":{"field":"x2"}}},
{"data":{"name":"arrows"},"transform":[{"filter":"datum.p=='21'"}],"mark":{"type":"rule","stroke":"#F2B324","strokeWidth":0.8},"encoding":{"y2":{"field":"y2"}}},
{"data":{"name":"arrows"},"transform":[{"filter":"datum.p=='21'"}],"mark":{"type":"point","shape":"triangle-down","size":14,"filled":true,"fill":"#F2B324","opacity":1,"yOffset":-2},"encoding":{"y":{"field":"y2","type":"quantitative"}}},
{"data":{"name":"labels"},"transform":[{"filter":"datum.p=='21'"}],"mark":{"type":"text","align":"left","baseline":"middle","fontSize":11,"color":"#F2B324"},"encoding":{"text":{"field":"txt"}}}
]},
{"width":121,"height":160,
"encoding":{"x":{"field":"x","type":"quantitative","scale":{"domain":[50,80],"nice":false,"zero":false},"axis":{"values":[50,60,70,80],"title":null}},
"y":{"field":"y","type":"quantitative","scale":{"domain":[-0.001,0.01],"nice":false,"zero":false},"axis":{"values":[0,0.001,0.002,0.003,0.004,0.005,0.006,0.007,0.008,0.009,0.01],"labelExpr":"round(datum.value*1000)%2==0 ? (datum.value==0 ? '0' : format(datum.value,'.3f')) : ''","title":null}}},
"layer":[
{"data":{"name":"curves"},"transform":[{"filter":"datum.p=='22'"}],"mark":{"type":"line","stroke":"#D9282E","strokeWidth":1},"encoding":{"detail":{"field":"m"},"strokeDash":{"field":"m","type":"nominal","scale":{"domain":[1,2],"range":[[1,0],[3,2]]},"legend":null}}},
{"data":{"name":"curves"},"transform":[{"filter":"datum.p=='22'"}],"mark":{"type":"point","shape":"triangle-up","size":18,"stroke":"#D9282E","strokeWidth":0.8,"opacity":1},"encoding":{"fill":{"condition":{"test":"datum.m==1","value":"#D9282E"},"value":"#ffffff"}}},
{"data":{"name":"refs"},"transform":[{"filter":"datum.p=='22'"}],"mark":{"type":"rule","stroke":"#D9282E","strokeDash":[1.5,1.5],"strokeWidth":0.8},"encoding":{"x2":{"field":"x2"}}},
{"data":{"name":"arrows"},"transform":[{"filter":"datum.p=='22'"}],"mark":{"type":"rule","stroke":"#D9282E","strokeWidth":0.8},"encoding":{"y2":{"field":"y2"}}},
{"data":{"name":"arrows"},"transform":[{"filter":"datum.p=='22'"}],"mark":{"type":"point","shape":"triangle-down","size":14,"filled":true,"fill":"#D9282E","opacity":1,"yOffset":-2},"encoding":{"y":{"field":"y2","type":"quantitative"}}},
{"data":{"name":"labels"},"transform":[{"filter":"datum.p=='22'"}],"mark":{"type":"text","align":"left","baseline":"middle","fontSize":11,"color":"#D9282E"},"encoding":{"text":{"field":"txt"}}}
]},
{"width":121,"height":160,
"encoding":{"x":{"field":"x","type":"quantitative","scale":{"domain":[50,80],"nice":false,"zero":false},"axis":{"values":[50,60,70,80],"title":null}},
"y":{"field":"y","type":"quantitative","scale":{"domain":[-0.001,0.01],"nice":false,"zero":false},"axis":{"values":[0,0.001,0.002,0.003,0.004,0.005,0.006,0.007,0.008,0.009,0.01],"labelExpr":"round(datum.value*1000)%2==0 ? (datum.value==0 ? '0' : format(datum.value,'.3f')) : ''","title":null}}},
"layer":[
{"data":{"name":"curves"},"transform":[{"filter":"datum.p=='23'"}],"mark":{"type":"line","stroke":"#3F8FCF","strokeWidth":1},"encoding":{"detail":{"field":"m"},"strokeDash":{"field":"m","type":"nominal","scale":{"domain":[1,2],"range":[[1,0],[3,2]]},"legend":null}}},
{"data":{"name":"curves"},"transform":[{"filter":"datum.p=='23'"}],"mark":{"type":"point","shape":"triangle-up","size":18,"stroke":"#3F8FCF","strokeWidth":0.8,"opacity":1},"encoding":{"fill":{"condition":{"test":"datum.m==1","value":"#3F8FCF"},"value":"#ffffff"}}},
{"data":{"name":"refs"},"transform":[{"filter":"datum.p=='23'"}],"mark":{"type":"rule","stroke":"#3F8FCF","strokeDash":[1.5,1.5],"strokeWidth":0.8},"encoding":{"x2":{"field":"x2"}}},
{"data":{"name":"arrows"},"transform":[{"filter":"datum.p=='23'"}],"mark":{"type":"rule","stroke":"#3F8FCF","strokeWidth":0.8},"encoding":{"y2":{"field":"y2"}}},
{"data":{"name":"arrows"},"transform":[{"filter":"datum.p=='23'"}],"mark":{"type":"point","shape":"triangle-down","size":14,"filled":true,"fill":"#3F8FCF","opacity":1,"yOffset":-2},"encoding":{"y":{"field":"y2","type":"quantitative"}}},
{"data":{"name":"labels"},"transform":[{"filter":"datum.p=='23'"}],"mark":{"type":"text","align":"left","baseline":"middle","fontSize":11,"color":"#3A86C8"},"encoding":{"text":{"field":"txt"}}}
]},
{"width":121,"height":160,
"encoding":{"x":{"field":"x","type":"quantitative","scale":{"domain":[50,80],"nice":false,"zero":false},"axis":{"values":[50,60,70,80],"title":null}},
"y":{"field":"y","type":"quantitative","scale":{"domain":[-0.001,0.01],"nice":false,"zero":false},"axis":{"values":[0,0.001,0.002,0.003,0.004,0.005,0.006,0.007,0.008,0.009,0.01],"labelExpr":"round(datum.value*1000)%2==0 ? (datum.value==0 ? '0' : format(datum.value,'.3f')) : ''","title":null}}},
"layer":[
{"data":{"name":"curves"},"transform":[{"filter":"datum.p=='24'"}],"mark":{"type":"line","stroke":"#6CB043","strokeWidth":1},"encoding":{"detail":{"field":"m"},"strokeDash":{"field":"m","type":"nominal","scale":{"domain":[1,2],"range":[[1,0],[3,2]]},"legend":null}}},
{"data":{"name":"curves"},"transform":[{"filter":"datum.p=='24'"}],"mark":{"type":"point","shape":"triangle-up","size":18,"stroke":"#6CB043","strokeWidth":0.8,"opacity":1},"encoding":{"fill":{"condition":{"test":"datum.m==1","value":"#6CB043"},"value":"#ffffff"}}},
{"data":{"name":"refs"},"transform":[{"filter":"datum.p=='24'"}],"mark":{"type":"rule","stroke":"#2B8A4E","strokeDash":[1.5,1.5],"strokeWidth":0.8},"encoding":{"x2":{"field":"x2"}}},
{"data":{"name":"arrows"},"transform":[{"filter":"datum.p=='24'"}],"mark":{"type":"rule","stroke":"#2B8A4E","strokeWidth":0.8},"encoding":{"y2":{"field":"y2"}}},
{"data":{"name":"arrows"},"transform":[{"filter":"datum.p=='24'"}],"mark":{"type":"point","shape":"triangle-down","size":14,"filled":true,"fill":"#2B8A4E","opacity":1,"yOffset":-2},"encoding":{"y":{"field":"y2","type":"quantitative"}}},
{"data":{"name":"labels"},"transform":[{"filter":"datum.p=='24'"}],"mark":{"type":"text","align":"left","baseline":"middle","fontSize":11,"color":"#2B8A4E"},"encoding":{"text":{"field":"txt"}}}
]},
{"width":121,"height":160,
"encoding":{"x":{"field":"x","type":"quantitative","scale":{"domain":[40,70],"nice":false,"zero":false},"axis":{"values":[40,50,60,70],"title":"Temperature (°C)","titlePadding":3}},
"y":{"field":"y","type":"quantitative","scale":{"domain":[-0.001,0.01],"nice":false,"zero":false},"axis":{"values":[0,0.001,0.002,0.003,0.004,0.005,0.006,0.007,0.008,0.009,0.01],"labelExpr":"round(datum.value*1000)%2==0 ? (datum.value==0 ? '0' : format(datum.value,'.3f')) : ''","title":["0.01 mM Mg²⁺free","dA₂₆₀ ₙₘ/dT"],"titlePadding":3,"titleLineHeight":14}}},
"layer":[
{"data":{"name":"curves"},"transform":[{"filter":"datum.p=='31'"}],"mark":{"type":"line","stroke":"#F2B324","strokeWidth":1},"encoding":{"detail":{"field":"m"},"strokeDash":{"field":"m","type":"nominal","scale":{"domain":[1,2],"range":[[1,0],[3,2]]},"legend":null}}},
{"data":{"name":"curves"},"transform":[{"filter":"datum.p=='31'"}],"mark":{"type":"point","shape":"square","size":18,"stroke":"#F2B324","strokeWidth":0.8,"opacity":1},"encoding":{"fill":{"condition":{"test":"datum.m==1","value":"#F2B324"},"value":"#ffffff"}}},
{"data":{"name":"refs"},"transform":[{"filter":"datum.p=='31'"}],"mark":{"type":"rule","stroke":"#F2B324","strokeDash":[1.5,1.5],"strokeWidth":0.8},"encoding":{"x2":{"field":"x2"}}},
{"data":{"name":"arrows"},"transform":[{"filter":"datum.p=='31'"}],"mark":{"type":"rule","stroke":"#F2B324","strokeWidth":0.8},"encoding":{"y2":{"field":"y2"}}},
{"data":{"name":"arrows"},"transform":[{"filter":"datum.p=='31'"}],"mark":{"type":"point","shape":"triangle-down","size":14,"filled":true,"fill":"#F2B324","opacity":1,"yOffset":-2},"encoding":{"y":{"field":"y2","type":"quantitative"}}},
{"data":{"name":"labels"},"transform":[{"filter":"datum.p=='31'"}],"mark":{"type":"text","align":"left","baseline":"middle","fontSize":11,"color":"#F2B324"},"encoding":{"text":{"field":"txt"}}}
]},
{"width":121,"height":160,
"encoding":{"x":{"field":"x","type":"quantitative","scale":{"domain":[40,70],"nice":false,"zero":false},"axis":{"values":[40,50,60,70],"title":"Temperature (°C)","titlePadding":3}},
"y":{"field":"y","type":"quantitative","scale":{"domain":[-0.001,0.01],"nice":false,"zero":false},"axis":{"values":[0,0.001,0.002,0.003,0.004,0.005,0.006,0.007,0.008,0.009,0.01],"labelExpr":"round(datum.value*1000)%2==0 ? (datum.value==0 ? '0' : format(datum.value,'.3f')) : ''","title":null}}},
"layer":[
{"data":{"name":"curves"},"transform":[{"filter":"datum.p=='32'"}],"mark":{"type":"line","stroke":"#D9282E","strokeWidth":1},"encoding":{"detail":{"field":"m"},"strokeDash":{"field":"m","type":"nominal","scale":{"domain":[1,2],"range":[[1,0],[3,2]]},"legend":null}}},
{"data":{"name":"curves"},"transform":[{"filter":"datum.p=='32'"}],"mark":{"type":"point","shape":"square","size":18,"stroke":"#D9282E","strokeWidth":0.8,"opacity":1},"encoding":{"fill":{"condition":{"test":"datum.m==1","value":"#D9282E"},"value":"#ffffff"}}},
{"data":{"name":"refs"},"transform":[{"filter":"datum.p=='32'"}],"mark":{"type":"rule","stroke":"#D9282E","strokeDash":[1.5,1.5],"strokeWidth":0.8},"encoding":{"x2":{"field":"x2"}}},
{"data":{"name":"arrows"},"transform":[{"filter":"datum.p=='32'"}],"mark":{"type":"rule","stroke":"#D9282E","strokeWidth":0.8},"encoding":{"y2":{"field":"y2"}}},
{"data":{"name":"arrows"},"transform":[{"filter":"datum.p=='32'"}],"mark":{"type":"point","shape":"triangle-down","size":14,"filled":true,"fill":"#D9282E","opacity":1,"yOffset":-2},"encoding":{"y":{"field":"y2","type":"quantitative"}}},
{"data":{"name":"labels"},"transform":[{"filter":"datum.p=='32'"}],"mark":{"type":"text","align":"left","baseline":"middle","fontSize":11,"color":"#D9282E"},"encoding":{"text":{"field":"txt"}}}
]},
{"width":121,"height":160,
"encoding":{"x":{"field":"x","type":"quantitative","scale":{"domain":[40,70],"nice":false,"zero":false},"axis":{"values":[40,50,60,70],"title":"Temperature (°C)","titlePadding":3}},
"y":{"field":"y","type":"quantitative","scale":{"domain":[-0.001,0.01],"nice":false,"zero":false},"axis":{"values":[0,0.001,0.002,0.003,0.004,0.005,0.006,0.007,0.008,0.009,0.01],"labelExpr":"round(datum.value*1000)%2==0 ? (datum.value==0 ? '0' : format(datum.value,'.3f')) : ''","title":null}}},
"layer":[
{"data":{"name":"curves"},"transform":[{"filter":"datum.p=='33'"}],"mark":{"type":"line","stroke":"#3F8FCF","strokeWidth":1},"encoding":{"detail":{"field":"m"},"strokeDash":{"field":"m","type":"nominal","scale":{"domain":[1,2],"range":[[1,0],[3,2]]},"legend":null}}},
{"data":{"name":"curves"},"transform":[{"filter":"datum.p=='33'"}],"mark":{"type":"point","shape":"square","size":18,"stroke":"#3F8FCF","strokeWidth":0.8,"opacity":1},"encoding":{"fill":{"condition":{"test":"datum.m==1","value":"#3F8FCF"},"value":"#ffffff"}}},
{"data":{"name":"refs"},"transform":[{"filter":"datum.p=='33'"}],"mark":{"type":"rule","stroke":"#3F8FCF","strokeDash":[1.5,1.5],"strokeWidth":0.8},"encoding":{"x2":{"field":"x2"}}},
{"data":{"name":"arrows"},"transform":[{"filter":"datum.p=='33'"}],"mark":{"type":"rule","stroke":"#3F8FCF","strokeWidth":0.8},"encoding":{"y2":{"field":"y2"}}},
{"data":{"name":"arrows"},"transform":[{"filter":"datum.p=='33'"}],"mark":{"type":"point","shape":"triangle-down","size":14,"filled":true,"fill":"#3F8FCF","opacity":1,"yOffset":-2},"encoding":{"y":{"field":"y2","type":"quantitative"}}},
{"data":{"name":"labels"},"transform":[{"filter":"datum.p=='33'"}],"mark":{"type":"text","align":"left","baseline":"middle","fontSize":11,"color":"#3A86C8"},"encoding":{"text":{"field":"txt"}}}
]},
{"width":121,"height":160,
"encoding":{"x":{"field":"x","type":"quantitative","scale":{"domain":[40,70],"nice":false,"zero":false},"axis":{"values":[40,50,60,70],"title":"Temperature (°C)","titlePadding":3}},
"y":{"field":"y","type":"quantitative","scale":{"domain":[-0.001,0.01],"nice":false,"zero":false},"axis":{"values":[0,0.001,0.002,0.003,0.004,0.005,0.006,0.007,0.008,0.009,0.01],"labelExpr":"round(datum.value*1000)%2==0 ? (datum.value==0 ? '0' : format(datum.value,'.3f')) : ''","title":null}}},
"layer":[
{"data":{"name":"curves"},"transform":[{"filter":"datum.p=='34'"}],"mark":{"type":"line","stroke":"#6CB043","strokeWidth":1},"encoding":{"detail":{"field":"m"},"strokeDash":{"field":"m","type":"nominal","scale":{"domain":[1,2],"range":[[1,0],[3,2]]},"legend":null}}},
{"data":{"name":"curves"},"transform":[{"filter":"datum.p=='34'"}],"mark":{"type":"point","shape":"square","size":18,"stroke":"#6CB043","strokeWidth":0.8,"opacity":1},"encoding":{"fill":{"condition":{"test":"datum.m==1","value":"#6CB043"},"value":"#ffffff"}}},
{"data":{"name":"refs"},"transform":[{"filter":"datum.p=='34'"}],"mark":{"type":"rule","stroke":"#2B8A4E","strokeDash":[1.5,1.5],"strokeWidth":0.8},"encoding":{"x2":{"field":"x2"}}},
{"data":{"name":"arrows"},"transform":[{"filter":"datum.p=='34'"}],"mark":{"type":"rule","stroke":"#2B8A4E","strokeWidth":0.8},"encoding":{"y2":{"field":"y2"}}},
{"data":{"name":"arrows"},"transform":[{"filter":"datum.p=='34'"}],"mark":{"type":"point","shape":"triangle-down","size":14,"filled":true,"fill":"#2B8A4E","opacity":1,"yOffset":-2},"encoding":{"y":{"field":"y2","type":"quantitative"}}},
{"data":{"name":"labels"},"transform":[{"filter":"datum.p=='34'"}],"mark":{"type":"text","align":"left","baseline":"middle","fontSize":11,"color":"#2B8A4E"},"encoding":{"text":{"field":"txt"}}}
]}
]},
{"title":{"text":"b","anchor":"start","fontSize":14,"fontWeight":"bold","baseline":"top","offset":-10,"color":"#000000"},
"spacing":0,
"hconcat":[
{"width":414,"height":234,"data":{"name":"bars"},
"encoding":{"x":{"field":"mg","type":"nominal","sort":["2 mM","0.5 mM","0.01 mM"],"scale":{"paddingInner":0,"paddingOuter":0},"axis":{"title":null,"labelAngle":0,"labelFontSize":11,"tickBand":"extent","tickSize":3,"labelPadding":-2}},
"xOffset":{"field":"cond","type":"nominal","sort":["GluCM","Aa₄CM","EDTACM"],"scale":{"paddingInner":0.2,"paddingOuter":0.9}}},
"layer":[
{"mark":{"type":"bar"},"encoding":{"y":{"field":"v","type":"quantitative","scale":{"domain":[0,1],"nice":false},"axis":{"values":[0,0.2,0.4,0.6,0.8,1],"labelExpr":"datum.value==0 ? '0' : format(datum.value,'.1f')","labelFontSize":11,"tickSize":4,"labelPadding":5,"title":["Maximum dA₂₆₀ ₙₘ/dT","2nd melt/1st melt"],"titlePadding":1,"titleLineHeight":15}},
"color":{"field":"cond","type":"nominal","sort":["GluCM","Aa₄CM","EDTACM"],"scale":{"domain":["GluCM","Aa₄CM","EDTACM"],"range":["#D7261E","#3E9AD1","#8BC34A"]},"legend":{"orient":"none","legendX":504,"legendY":654,"title":null,"symbolType":"square","symbolSize":144,"labelFontSize":11,"rowPadding":7,"symbolStrokeWidth":0,"labelOffset":5}}}},
{"mark":{"type":"rule","strokeWidth":1},"encoding":{"y":{"field":"v","type":"quantitative"},"y2":{"field":"hi"},"color":{"field":"cond","type":"nominal"}}},
{"mark":{"type":"tick","size":8,"thickness":1,"opacity":1},"encoding":{"y":{"field":"hi","type":"quantitative"},"color":{"field":"cond","type":"nominal"}}},
{"mark":{"type":"text","baseline":"middle","dy":-9,"fontSize":11,"color":"#222222"},"encoding":{"y":{"field":"hi","type":"quantitative"},"text":{"field":"v","type":"quantitative","format":".2f"}}}
]},
{"width":130,"height":234,
"encoding":{"x":{"field":"x","type":"quantitative","scale":{"domain":[0,1],"nice":false},"axis":null},"y":{"field":"y","type":"quantitative","scale":{"domain":[0,1],"nice":false},"axis":null}},
"layer":[
{"data":{"values":[{"x":0.285,"y":0.539}]},"mark":{"type":"point","shape":"M0,-1L0.234,-0.462L0.124,-0.462L0.124,1L-0.124,1L-0.124,-0.462L-0.234,-0.462Z","size":21025,"filled":true,"opacity":1,"strokeWidth":0,"fill":{"gradient":"linear","x1":0,"y1":0,"x2":0,"y2":1,"stops":[{"offset":0,"color":"#C0393B"},{"offset":0.27,"color":"#E3847C"},{"offset":0.55,"color":"#F0ABA4"},{"offset":1,"color":"#FFFFFF"}]}}},
{"data":{"values":[{"txt":"High stability","x":0.069,"y":0.955},{"txt":"Low stability","x":0,"y":0.043},{"txt":"[Mg²⁺]free","x":0,"y":-0.034}]},"mark":{"type":"text","align":"left","baseline":"middle","fontSize":11,"color":"#222222"},"encoding":{"text":{"field":"txt"}}}
]}
]}
],
"spacing":18
}
